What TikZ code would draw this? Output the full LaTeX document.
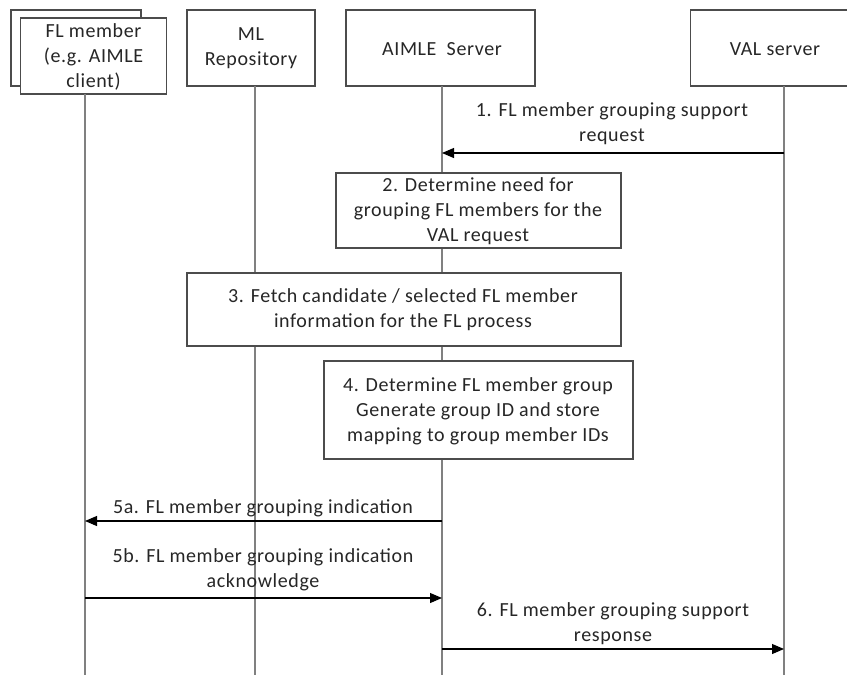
\documentclass[tikz,border=0pt]{standalone}
\usepackage{fontspec}
\setmainfont{Carlito}[LetterSpace=3]
\usetikzlibrary{arrows.meta}
\begin{document}
\begin{tikzpicture}[x=0.75pt,y=-0.75pt,
  every node/.style={font=\fontsize{15}{18.75}\selectfont, align=center, inner sep=0pt, text=black!85},
  boxline/.style={draw=black!70, line width=0.9pt},
  lifeline/.style={draw=black!50, line width=1pt},
  msg/.style={draw=black, line width=0.8pt, -{Triangle[length=9pt,width=7.5pt]}}]
\useasboundingbox (0,0) rectangle (847,675);
\clip (0,0) rectangle (847,675);
% headers
\draw[boxline, fill=white] (11,10) rectangle (141,86);
\node[boxline, fill=white, minimum width=110pt, minimum height=57pt] (flm) at (93.5,56) {};
\node at (93.5,57) {FL member\\(e.g. AIMLE\\client)};
\node[boxline, minimum width=96pt, minimum height=57pt] (mlr) at (251,48) {};
\node at (251,48) {ML\\Repository};
\node[boxline, minimum width=141.75pt, minimum height=57pt] (aim) at (440.5,48) {};
\node at (442,49) {AIMLE\ \ Server};
\node[boxline, minimum width=150pt, minimum height=57pt, anchor=west] (val) at (690,48) {};
\node at (775,49) {VAL server};
% lifelines
\coordinate (flmE) at (85,675);
\coordinate (mlrE) at (255,675);
\coordinate (aimE) at (442,675);
\coordinate (valE) at (784,675);
\coordinate (flmT) at (85,94);
\coordinate (mlrT) at (255,86);
\coordinate (aimT) at (442,86);
\coordinate (valT) at (784,86);
\draw[lifeline] (flmT) -- (flmE);
\draw[lifeline] (mlrT) -- (mlrE);
\draw[lifeline] (aimT) -- (aimE);
\draw[lifeline] (valT) -- (valE);
% step boxes
\node[boxline, fill=white, minimum width=213.75pt, minimum height=56.25pt] (s2) at (478.5,210.5) {};
\node at (478,211) {2. Determine need for\\grouping FL members for the\\VAL request};
\node[boxline, fill=white, minimum width=325.5pt, minimum height=54.75pt] (s3) at (404,309.5) {};
\node at (403,310) {3. Fetch candidate / selected FL member\\information for the FL process};
\node[boxline, fill=white, minimum width=231.75pt, minimum height=73.5pt] (s4) at (478.5,410) {};
\node at (478,411) {4. Determine FL member group\\Generate group ID and store\\mapping to group member IDs};
% messages
\coordinate (m1s) at (784,153); \coordinate (m1e) at (442,153);
\draw[msg] (m1s) -- (m1e);
\node at (612,124) {1. FL member grouping support\\request};
\coordinate (m5as) at (442,521); \coordinate (m5ae) at (85,521);
\draw[msg] (m5as) -- (m5ae);
\node at (263,508) {5a. FL member grouping indication};
\coordinate (m5bs) at (85,598); \coordinate (m5be) at (442,598);
\draw[msg] (m5bs) -- (m5be);
\node at (263,570) {5b. FL member grouping indication\\acknowledge};
\coordinate (m6s) at (442,649); \coordinate (m6e) at (784,649);
\draw[msg] (m6s) -- (m6e);
\node at (613,624) {6. FL member grouping support\\response};
\end{tikzpicture}
\end{document}
